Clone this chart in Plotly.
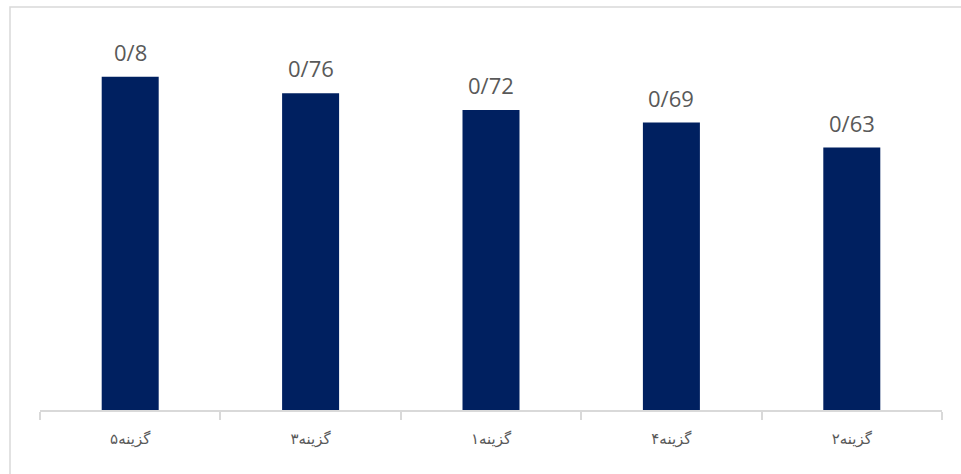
import plotly.graph_objects as go

categories = ["گزینه۵", "گزینه۳", "گزینه۱", "گزینه۴", "گزینه۲"]
values = [0.8, 0.76, 0.72, 0.69, 0.63]
value_labels = [str(v).replace(".", "/") for v in values]

fig = go.Figure()
fig.add_trace(go.Bar(
    x=categories, y=values,
    marker=dict(color="#002060", line=dict(width=0)),
    width=0.316,
    hoverinfo="skip",
))

for c, v, t in zip(categories, values, value_labels):
    fig.add_annotation(x=c, y=v, text=t, showarrow=False, yanchor="bottom",
                       yshift=8, font=dict(family="Open Sans", size=22, color="#595959"))

# outer chart border (top-left visible)
fig.add_shape(type="rect", xref="paper", yref="paper",
              x0=(10 - 40) / 902, x1=1.2, y0=-0.5, y1=(410 - 7) / 375,
              line=dict(color="#d9d9d9", width=1.5), fillcolor="rgba(0,0,0,0)", layer="below")

fig.update_layout(
    width=961, height=474,
    margin=dict(l=40, r=19, t=35, b=64),
    paper_bgcolor="white", plot_bgcolor="white",
    showlegend=False,
    xaxis=dict(
        range=[-0.5, 4.5],
        showline=True, linecolor="#d9d9d9", linewidth=1.5,
        ticks="outside", tickson="boundaries", ticklen=8, tickcolor="#d9d9d9", tickwidth=1.5,
        tickfont=dict(family="DejaVu Sans", size=15, color="#595959"),
        ticklabelstandoff=14,
        showgrid=False, fixedrange=True,
    ),
    yaxis=dict(range=[0, 0.9], visible=False, showgrid=False, fixedrange=True),
)

fig.write_html("out.html", config={"displayModeBar": False},
               post_script="document.body.style.margin='0';document.body.style.overflow='hidden';")
